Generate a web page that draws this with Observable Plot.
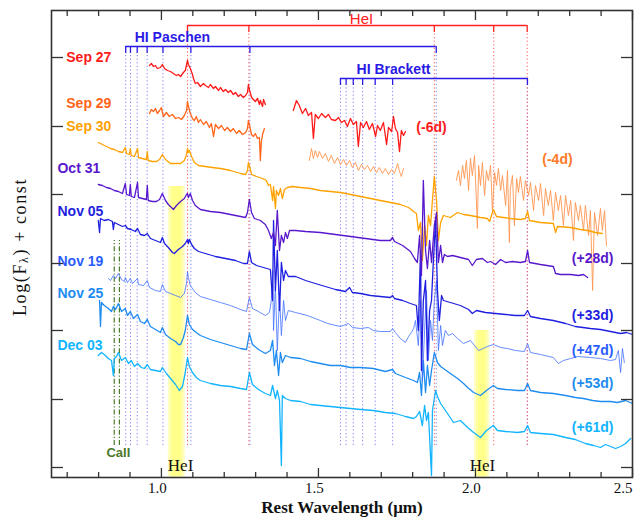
<!DOCTYPE html>
<html><head><meta charset="utf-8">
<script src="https://cdn.jsdelivr.net/npm/d3@7"></script>
<script src="https://cdn.jsdelivr.net/npm/@observablehq/plot@0.6"></script>
<style>body{margin:0;background:#fff}svg{display:block}</style>
</head><body><div id="chart"></div>
<script>
// ---- spectra: [wavelength (µm), log F + const] ----
const sep27a = [[0.962,4.12],[0.968,4.14],[0.975,4.11],[0.981,4.12],[0.987,4.09],[0.997,4.10],[1.003,4.13],[1.010,4.09],[1.019,4.07],[1.029,4.06],[1.038,4.04],[1.048,4.02],[1.054,4.03],[1.061,4.01],[1.070,4.05],[1.076,4.07],[1.083,4.17],[1.086,4.13],[1.092,4.09],[1.099,4.03],[1.102,3.99],[1.108,3.94],[1.115,3.95],[1.124,3.91],[1.134,3.94],[1.140,3.92],[1.150,3.90],[1.156,3.93],[1.166,3.89],[1.172,3.91],[1.182,3.87],[1.188,3.90],[1.197,3.86],[1.204,3.88],[1.213,3.85],[1.220,3.87],[1.229,3.83],[1.236,3.85],[1.245,3.81],[1.252,3.83],[1.261,3.80],[1.268,3.82],[1.274,3.85],[1.277,3.93],[1.280,3.88],[1.287,3.80],[1.293,3.78],[1.299,3.76],[1.306,3.79],[1.312,3.73],[1.315,3.77],[1.322,3.71],[1.325,3.78],[1.331,3.73]];
const sep27b = [[1.420,3.67],[1.430,3.77],[1.439,3.72],[1.449,3.64],[1.459,3.69],[1.468,3.62],[1.478,3.65],[1.484,3.39],[1.490,3.63],[1.500,3.59],[1.510,3.64],[1.522,3.60],[1.532,3.63],[1.541,3.58],[1.554,3.57],[1.564,3.60],[1.573,3.55],[1.583,3.57],[1.592,3.51],[1.602,3.59],[1.611,3.53],[1.621,3.56],[1.627,3.31],[1.634,3.55],[1.643,3.50],[1.653,3.56],[1.662,3.48],[1.672,3.54],[1.682,3.41],[1.688,3.52],[1.697,3.47],[1.707,3.55],[1.717,3.33],[1.723,3.50],[1.733,3.46],[1.739,3.61],[1.745,3.49],[1.752,3.45],[1.758,3.26],[1.764,3.47],[1.771,3.42],[1.777,3.46]];
const sep29a = [[0.962,3.64],[0.968,3.68],[0.975,3.66],[0.981,3.69],[0.987,3.64],[0.994,3.67],[1.000,3.70],[1.006,3.61],[1.016,3.65],[1.025,3.61],[1.035,3.63],[1.045,3.59],[1.054,3.60],[1.064,3.58],[1.073,3.62],[1.080,3.67],[1.083,3.76],[1.086,3.71],[1.092,3.64],[1.099,3.59],[1.105,3.57],[1.111,3.61],[1.118,3.55],[1.124,3.58],[1.134,3.53],[1.143,3.56],[1.153,3.50],[1.159,3.54],[1.166,3.41],[1.172,3.53],[1.182,3.49],[1.191,3.52],[1.201,3.47],[1.210,3.50],[1.220,3.46],[1.229,3.49],[1.239,3.44],[1.248,3.47],[1.258,3.43],[1.268,3.45],[1.274,3.49],[1.277,3.57],[1.280,3.53],[1.287,3.43],[1.293,3.41],[1.299,3.44],[1.306,3.39],[1.312,3.40],[1.315,3.17],[1.318,3.35],[1.322,3.43],[1.328,3.49]];
const sep29b = [[1.471,3.17],[1.478,3.29],[1.484,3.19],[1.490,3.27],[1.497,3.20],[1.503,3.26],[1.513,3.19],[1.522,3.24],[1.532,3.16],[1.541,3.22],[1.551,3.14],[1.561,3.20],[1.570,3.13],[1.580,3.18],[1.589,3.12],[1.599,3.17],[1.608,3.10],[1.618,3.15],[1.627,3.07],[1.637,3.13],[1.646,3.08],[1.656,3.12],[1.666,3.06],[1.675,3.11],[1.685,3.05],[1.694,3.10],[1.704,3.04],[1.713,3.09],[1.723,3.03],[1.733,3.08],[1.742,3.04],[1.752,3.14],[1.758,3.06],[1.764,3.01],[1.771,3.09]];
const sep29c = [[1.939,2.97],[1.946,3.07],[1.952,2.92],[1.959,3.12],[1.965,2.99],[1.971,3.17],[1.978,2.87],[1.984,3.19],[1.990,3.02],[1.997,3.22],[2.003,2.77],[2.006,2.49],[2.010,3.12],[2.016,2.92],[2.022,3.15],[2.029,2.82],[2.035,3.07],[2.041,2.97],[2.048,3.12],[2.054,2.67],[2.061,3.05],[2.067,2.92],[2.073,3.09],[2.080,2.87],[2.086,3.02],[2.096,2.72],[2.102,3.07],[2.108,2.35],[2.111,2.89],[2.118,3.02],[2.124,2.52],[2.131,2.99],[2.137,2.85],[2.143,3.01],[2.153,2.77],[2.159,2.97],[2.169,2.82],[2.175,2.95],[2.185,2.67],[2.191,2.92],[2.201,2.77],[2.207,2.94],[2.217,2.62],[2.223,2.89],[2.232,2.72],[2.239,2.87],[2.248,2.57],[2.255,2.85],[2.264,2.67],[2.271,2.82],[2.280,2.52],[2.287,2.82],[2.296,2.62],[2.303,2.77],[2.312,2.37],[2.318,2.75],[2.328,2.57],[2.334,2.72],[2.344,2.47],[2.350,2.72],[2.360,2.42],[2.366,2.67],[2.373,1.87],[2.379,2.65],[2.389,2.42],[2.398,2.69],[2.404,2.47],[2.411,2.67],[2.417,2.32]];
const sep30 = [[0.799,3.35],[0.812,3.33],[0.825,3.31],[0.838,3.29],[0.850,3.28],[0.863,3.26],[0.876,3.25],[0.885,3.30],[0.889,3.24],[0.898,3.23],[0.901,3.29],[0.904,3.22],[0.914,3.21],[0.924,3.29],[0.927,3.20],[0.939,3.19],[0.952,3.18],[0.955,3.26],[0.958,3.17],[0.971,3.16],[0.984,3.16],[0.994,3.18],[1.003,3.23],[1.013,3.18],[1.029,3.14],[1.045,3.14],[1.061,3.14],[1.073,3.17],[1.080,3.23],[1.083,3.29],[1.086,3.25],[1.089,3.27],[1.096,3.21],[1.105,3.15],[1.118,3.12],[1.140,3.11],[1.162,3.10],[1.188,3.09],[1.220,3.07],[1.252,3.04],[1.268,3.03],[1.274,3.07],[1.277,3.15],[1.280,3.12],[1.287,3.03],[1.303,3.01],[1.322,2.99],[1.334,2.97],[1.341,2.92],[1.347,2.93],[1.354,2.77],[1.357,2.91],[1.363,2.69],[1.366,2.87],[1.373,2.82],[1.379,2.89],[1.385,2.79],[1.392,2.88],[1.401,2.90],[1.417,2.91],[1.443,2.90],[1.475,2.89],[1.506,2.87],[1.538,2.86],[1.570,2.85],[1.602,2.83],[1.634,2.81],[1.666,2.79],[1.697,2.77],[1.729,2.75],[1.761,2.73],[1.787,2.70],[1.803,2.66],[1.812,2.64],[1.818,2.47],[1.825,2.55],[1.831,2.17],[1.838,2.52],[1.844,2.32],[1.850,2.62],[1.857,2.52],[1.863,2.77],[1.869,3.01],[1.876,2.77],[1.882,2.37],[1.889,2.55],[1.898,2.62],[1.920,2.60],[1.943,2.65],[1.962,2.63],[1.984,2.62],[2.016,2.60],[2.038,2.59],[2.045,2.56],[2.057,2.68],[2.067,2.61],[2.089,2.60],[2.111,2.59],[2.143,2.58],[2.159,2.59],[2.166,2.66],[2.172,2.57],[2.207,2.55],[2.248,2.54],[2.255,2.45],[2.261,2.51],[2.303,2.50],[2.334,2.48],[2.357,2.47],[2.382,2.45],[2.404,2.44]];
const oct31 = [[0.799,2.93],[0.812,2.92],[0.825,2.90],[0.838,2.89],[0.850,2.87],[0.863,2.86],[0.876,2.84],[0.885,2.94],[0.889,2.83],[0.898,2.82],[0.901,2.93],[0.904,2.81],[0.914,2.80],[0.924,2.95],[0.927,2.80],[0.939,2.79],[0.952,2.78],[0.955,2.92],[0.958,2.77],[0.971,2.76],[0.984,2.76],[0.994,2.78],[1.003,2.84],[1.013,2.77],[1.022,2.73],[1.032,2.70],[1.038,2.68],[1.048,2.72],[1.061,2.76],[1.073,2.79],[1.080,2.83],[1.083,2.84],[1.086,2.80],[1.092,2.84],[1.099,2.77],[1.108,2.72],[1.124,2.68],[1.156,2.66],[1.188,2.65],[1.220,2.63],[1.252,2.61],[1.268,2.60],[1.274,2.65],[1.280,2.78],[1.287,2.65],[1.296,2.59],[1.315,2.57],[1.331,2.53],[1.341,2.47],[1.350,2.39],[1.357,2.45],[1.363,2.32],[1.369,2.67],[1.376,2.27],[1.382,2.42],[1.389,2.35],[1.395,2.45],[1.401,2.39],[1.408,2.47],[1.427,2.47],[1.459,2.46],[1.506,2.45],[1.554,2.43],[1.602,2.41],[1.650,2.39],[1.697,2.37],[1.729,2.37],[1.736,2.40],[1.742,2.36],[1.768,2.32],[1.793,2.26],[1.806,2.19],[1.815,2.15],[1.822,2.42],[1.828,2.02],[1.834,2.97],[1.841,2.27],[1.847,2.09],[1.854,2.37],[1.860,2.15],[1.869,2.52],[1.876,2.65],[1.882,2.15],[1.889,2.32],[1.895,2.15],[1.901,2.23],[1.911,2.21],[1.927,2.22],[1.952,2.20],[1.978,2.18],[1.990,2.12],[2.003,2.18],[2.022,2.19],[2.038,2.15],[2.048,2.16],[2.064,2.13],[2.080,2.18],[2.096,2.15],[2.118,2.16],[2.143,2.15],[2.159,2.16],[2.166,2.27],[2.172,2.15],[2.207,2.13],[2.248,2.11],[2.255,2.04],[2.271,2.03],[2.303,2.03],[2.328,2.02],[2.344,2.03],[2.357,2.00]];
const nov05 = [[0.799,2.57],[0.803,2.45],[0.806,2.59],[0.818,2.57],[0.831,2.58],[0.844,2.56],[0.847,2.48],[0.850,2.55],[0.863,2.53],[0.876,2.51],[0.885,2.52],[0.892,2.49],[0.904,2.48],[0.917,2.46],[0.924,2.49],[0.933,2.43],[0.946,2.42],[0.955,2.44],[0.965,2.39],[0.981,2.37],[0.997,2.35],[1.003,2.40],[1.010,2.34],[1.022,2.30],[1.035,2.25],[1.041,2.24],[1.054,2.28],[1.067,2.31],[1.076,2.34],[1.083,2.38],[1.086,2.34],[1.089,2.38],[1.096,2.33],[1.105,2.29],[1.118,2.26],[1.140,2.24],[1.172,2.21],[1.204,2.19],[1.236,2.17],[1.261,2.14],[1.274,2.14],[1.280,2.26],[1.287,2.15],[1.303,2.12],[1.325,2.10],[1.347,2.08],[1.354,1.77],[1.357,2.57],[1.363,1.87],[1.369,2.27],[1.376,1.67],[1.382,2.15],[1.389,1.97],[1.395,2.07],[1.404,2.01],[1.427,2.01],[1.459,1.97],[1.490,1.94],[1.522,1.91],[1.554,1.88],[1.586,1.86],[1.599,1.90],[1.608,1.85],[1.634,1.84],[1.666,1.82],[1.697,1.81],[1.729,1.80],[1.736,1.82],[1.742,1.79],[1.768,1.77],[1.793,1.74],[1.812,1.72],[1.818,1.47],[1.825,2.27],[1.828,1.07],[1.834,1.77],[1.841,1.97],[1.847,1.17],[1.854,1.67],[1.860,1.77],[1.866,2.17],[1.873,2.57],[1.879,1.87],[1.885,1.57],[1.892,1.82],[1.898,1.77],[1.920,1.75],[1.952,1.72],[1.978,1.68],[1.990,1.64],[2.003,1.67],[2.032,1.65],[2.064,1.64],[2.096,1.63],[2.127,1.62],[2.156,1.62],[2.166,1.67],[2.175,1.61],[2.207,1.59],[2.248,1.57],[2.287,1.54],[2.318,1.51],[2.366,1.49],[2.398,1.48],[2.430,1.46],[2.462,1.44],[2.481,1.45],[2.500,1.43]];
const nov19 = [[0.831,1.99],[0.838,1.97],[0.847,2.02],[0.854,1.99],[0.863,2.04],[0.873,1.98],[0.882,1.96],[0.885,2.00],[0.892,1.95],[0.901,1.99],[0.908,1.94],[0.924,1.99],[0.927,1.93],[0.943,1.92],[0.955,1.97],[0.962,1.90],[0.981,1.87],[0.997,1.86],[1.003,1.93],[1.013,1.86],[1.029,1.84],[1.045,1.82],[1.061,1.80],[1.073,1.84],[1.080,1.94],[1.083,2.06],[1.086,2.00],[1.092,1.92],[1.108,1.85],[1.124,1.81],[1.156,1.78],[1.188,1.75],[1.220,1.72],[1.252,1.68],[1.271,1.66],[1.280,1.80],[1.290,1.69],[1.309,1.66],[1.331,1.62],[1.344,1.65],[1.350,1.77],[1.354,2.07],[1.357,1.47],[1.363,1.92],[1.369,1.27],[1.376,1.82],[1.382,1.42],[1.389,1.77],[1.395,1.57],[1.404,1.67],[1.427,1.65],[1.465,1.62],[1.506,1.57],[1.529,1.54],[1.570,1.51],[1.596,1.54],[1.608,1.50],[1.634,1.49],[1.659,1.50],[1.675,1.47],[1.697,1.46],[1.729,1.46],[1.736,1.49],[1.745,1.45],[1.761,1.39],[1.777,1.35],[1.787,1.41],[1.796,1.45],[1.803,1.49],[1.809,1.57],[1.818,1.32],[1.825,1.77],[1.831,0.97],[1.838,1.47],[1.844,1.87],[1.850,1.17],[1.857,1.57],[1.863,1.37],[1.869,1.77],[1.876,1.97],[1.882,1.27],[1.889,1.52],[1.895,1.32],[1.904,1.47],[1.914,1.42],[1.927,1.44],[1.943,1.39],[1.962,1.34],[1.984,1.37],[1.997,1.32],[2.010,1.27],[2.025,1.29],[2.038,1.31],[2.057,1.33],[2.080,1.30],[2.102,1.29],[2.127,1.27],[2.156,1.26],[2.166,1.34],[2.175,1.25],[2.207,1.23],[2.248,1.20],[2.264,1.14],[2.280,1.17],[2.303,1.19],[2.325,1.21],[2.366,1.20],[2.398,1.19],[2.430,1.17],[2.446,1.18],[2.455,1.27],[2.462,1.05],[2.468,1.29],[2.474,1.15]];
const nov25 = [[0.803,1.77],[0.806,1.51],[0.809,1.75],[0.818,1.72],[0.831,1.69],[0.841,1.66],[0.847,1.71],[0.854,1.68],[0.863,1.74],[0.873,1.66],[0.885,1.69],[0.892,1.62],[0.901,1.66],[0.911,1.59],[0.924,1.63],[0.933,1.56],[0.946,1.54],[0.955,1.58],[0.965,1.51],[0.981,1.48],[0.997,1.45],[1.003,1.50],[1.013,1.43],[1.029,1.39],[1.045,1.36],[1.054,1.33],[1.061,1.33],[1.070,1.40],[1.076,1.47],[1.083,1.62],[1.089,1.53],[1.099,1.48],[1.111,1.45],[1.124,1.42],[1.156,1.38],[1.188,1.35],[1.220,1.32],[1.252,1.29],[1.271,1.28],[1.280,1.44],[1.290,1.33],[1.309,1.28],[1.331,1.24],[1.347,1.27],[1.354,1.37],[1.360,1.12],[1.366,1.27],[1.373,1.02],[1.379,1.25],[1.385,1.15],[1.395,1.22],[1.411,1.20],[1.443,1.19],[1.475,1.16],[1.506,1.14],[1.538,1.12],[1.570,1.12],[1.602,1.10],[1.634,1.10],[1.675,1.09],[1.713,1.06],[1.736,1.08],[1.745,1.04],[1.777,1.00],[1.803,0.97],[1.815,0.95],[1.822,1.05],[1.828,0.82],[1.834,1.17],[1.841,0.85],[1.847,1.12],[1.854,0.92],[1.860,1.07],[1.869,1.25],[1.879,1.15],[1.889,1.11],[1.898,1.09],[1.920,1.04],[1.943,0.99],[1.962,0.94],[1.975,0.90],[1.994,0.85],[2.016,0.82],[2.035,0.87],[2.057,0.92],[2.070,0.89],[2.096,0.88],[2.134,0.87],[2.156,0.87],[2.166,0.94],[2.175,0.87],[2.207,0.85],[2.248,0.84],[2.287,0.82],[2.318,0.80],[2.344,0.79],[2.373,0.77],[2.398,0.76],[2.430,0.76],[2.452,0.75],[2.478,0.77],[2.500,0.74]];
const dec03 = [[0.799,1.22],[0.809,1.25],[0.818,1.23],[0.831,1.19],[0.841,1.17],[0.847,1.02],[0.850,1.19],[0.857,1.21],[0.863,1.25],[0.873,1.17],[0.885,1.20],[0.895,1.14],[0.904,1.17],[0.914,1.11],[0.924,1.14],[0.936,1.10],[0.946,1.09],[0.955,1.13],[0.965,1.08],[0.981,1.07],[0.997,1.06],[1.003,1.10],[1.016,1.04],[1.029,0.99],[1.045,0.93],[1.057,0.87],[1.067,0.91],[1.076,1.05],[1.083,1.20],[1.089,1.11],[1.099,1.05],[1.111,1.00],[1.124,0.97],[1.156,0.94],[1.188,0.92],[1.220,0.91],[1.252,0.89],[1.271,0.88],[1.280,1.05],[1.290,0.93],[1.309,0.88],[1.331,0.84],[1.347,0.82],[1.354,0.92],[1.363,0.79],[1.369,0.87],[1.376,0.77],[1.382,0.12],[1.385,0.82],[1.395,0.79],[1.411,0.77],[1.443,0.76],[1.475,0.73],[1.506,0.72],[1.538,0.71],[1.570,0.70],[1.602,0.69],[1.634,0.68],[1.675,0.67],[1.713,0.65],[1.745,0.64],[1.777,0.61],[1.803,0.59],[1.812,0.61],[1.822,0.66],[1.831,0.52],[1.838,0.72],[1.844,0.57],[1.850,0.65],[1.860,0.02],[1.863,0.67],[1.873,0.87],[1.879,0.81],[1.889,0.74],[1.911,0.64],[1.930,0.55],[1.952,0.57],[1.975,0.50],[1.994,0.45],[2.016,0.40],[2.035,0.47],[2.057,0.52],[2.070,0.47],[2.096,0.46],[2.134,0.45],[2.156,0.46],[2.166,0.52],[2.175,0.45],[2.207,0.44],[2.248,0.43],[2.287,0.40],[2.318,0.38],[2.350,0.34],[2.376,0.32],[2.398,0.30],[2.414,0.33],[2.430,0.31],[2.446,0.29],[2.462,0.31],[2.478,0.34],[2.494,0.39]];

// ---- line identifications (µm) ----
const paschen = [0.8863, 0.9015, 0.9229, 0.9546, 1.0049, 1.0938, 1.2818, 1.8751];
const heI = [1.0830, 1.2785, 1.8690, 2.0581, 2.1647];
const brackett = [1.5701, 1.5881, 1.6109, 1.6407, 1.6807, 1.7362, 2.1655];
const caII = [0.8498, 0.8662];
const heIBands = [[1.022, 1.076, 2.91], [1.997, 2.045, 1.47]];

// ---- labels ----
const dates = ["Sep 27","Sep 29","Sep 30","Oct 31","Nov 05","Nov 19","Nov 25","Dec 03"];
const phases = ["(-6d)","(-4d)","(+28d)","(+33d)","(+47d)","(+53d)","(+61d)"];
const xTickLabels = [1.0, 1.5, 2.0];
const xMinor = d3.range(7, 26).map(d => d / 10);
const yTicks = [0.10, 0.78, 1.47, 2.14, 2.83, 3.51, 4.20];

// ---- presentation ----
const C = {sep27:"#ff1a1a", sep29:"#ff6418", sep29t:"#ff9550", sep30:"#ffa200", oct31:"#5818cc",
  nov05:"#1f1fe0", nov19:"#3f6fff", nov19l:"#2a5cff", nov25:"#1e8cf0", dec03:"#12b4ff"};
const dateLabels = [
  {t:dates[0], x:0.697, y:4.20, c:C.sep27},{t:dates[1], x:0.697, y:3.74, c:C.sep29},
  {t:dates[2], x:0.697, y:3.51, c:C.sep30},{t:dates[3], x:0.669, y:3.09, c:C.oct31},
  {t:dates[4], x:0.669, y:2.66, c:C.nov05},{t:dates[5], x:0.669, y:2.16, c:C.nov19l},
  {t:dates[6], x:0.669, y:1.84, c:C.nov25},{t:dates[7], x:0.669, y:1.32, c:C.dec03}];
const phaseLabels = [
  {t:phases[0], x:1.860, y:3.50, c:C.sep27},{t:phases[1], x:2.261, y:3.18, c:"#ff7a28"},
  {t:phases[2], x:2.373, y:2.19, c:C.oct31},{t:phases[3], x:2.373, y:1.62, c:C.nov05},
  {t:phases[4], x:2.373, y:1.27, c:C.nov19l},{t:phases[5], x:2.373, y:0.94, c:C.nov25},
  {t:phases[6], x:2.373, y:0.50, c:C.dec03}];
const sans = "'Liberation Sans', Arial, sans-serif";
const serif = "'Liberation Serif', 'DejaVu Serif', serif";
const red = "#ff2020", blue = "#2a1ae6";
const L = (data, stroke, w = 1.3, o = 1) => Plot.line(data, {x: d => d[0], y: d => d[1], stroke, strokeWidth: w, strokeOpacity: o});

const yellowLayers = [0, 0.006, 0.013];
const marks = [];
for (const inset of yellowLayers) {
  marks.push(Plot.rect(heIBands, {x1: d => d[0] + inset, x2: d => d[1] - inset, y1: 0.005, y2: d => d[2], fill: "#ffff66", fillOpacity: 0.38}));
}
const minor = xMinor.filter(d => Math.round(d * 10) % 5 !== 0);
const major = [1.0, 1.5, 2.0, 2.5];
marks.push(
  Plot.ruleX(paschen, {y1: 0.32, y2: 4.245, stroke: "#7f7fff", strokeWidth: 1, strokeDasharray: "1.2,2.4"}),
  Plot.ruleX(brackett, {y1: 0.32, y2: 3.92, stroke: "#7f7fff", strokeWidth: 1, strokeDasharray: "1.2,2.4"}),
  Plot.ruleX(heI, {y1: 0.32, y2: 4.46, stroke: "#ff5a5a", strokeWidth: 1, strokeDasharray: "1.2,2.4"}),
  Plot.ruleX(caII, {y1: 0.32, y2: 2.37, stroke: "#4b7a2b", strokeWidth: 1.2, strokeDasharray: "5,2,1.2,2"}),
  L(sep29b, C.sep29t, 0.9), L(sep29c, C.sep29t, 0.9),
  L(sep30, C.sep30), L(sep27a, C.sep27), L(sep27b, C.sep27), L(sep29a, C.sep29),
  L(dec03, C.dec03), L(nov25, C.nov25), L(nov19, C.nov19, 0.8), L(nov05, C.nov05), L(oct31, C.oct31),
  // brackets
  Plot.ruleY([4.52], {x1: heI[0], x2: heI[heI.length - 1], stroke: red, strokeWidth: 1.3}),
  Plot.ruleX(heI, {y1: 4.45, y2: 4.52, stroke: red, strokeWidth: 1.3}),
  Plot.ruleY([4.31], {x1: paschen[0], x2: paschen[paschen.length - 1], stroke: blue, strokeWidth: 1.3}),
  Plot.ruleX(paschen, {y1: 4.24, y2: 4.31, stroke: blue, strokeWidth: 1.3}),
  Plot.ruleY([3.99], {x1: brackett[0], x2: brackett[brackett.length - 1], stroke: blue, strokeWidth: 1.3}),
  Plot.ruleX(brackett, {y1: 3.92, y2: 3.99, stroke: blue, strokeWidth: 1.3}),
  Plot.text(["HeI"], {x: 1.637, y: 4.58, text: d => d, fill: red, fontSize: 15, fontFamily: sans, letterSpacing: 0.5}),
  Plot.text(["HI Paschen"], {x: 1.035, y: 4.40, text: d => d, fill: blue, fontSize: 14, fontWeight: "bold", fontFamily: sans, letterSpacing: 1}),
  Plot.text(["HI Brackett"], {x: 1.739, y: 4.08, text: d => d, fill: blue, fontSize: 14, fontWeight: "bold", fontFamily: sans, letterSpacing: 1}),
  Plot.text(["CaII"], {x: 0.863, y: 0.25, text: d => d, fill: "#4b7a2b", fontSize: 13, fontWeight: "bold", fontFamily: sans, letterSpacing: 1}),
  Plot.text(["HeI"], {x: 1.061, y: 0.12, text: d => d, fill: "#111", fontSize: 17, fontFamily: serif}),
  Plot.text(["HeI"], {x: 2.022, y: 0.12, text: d => d, fill: "#111", fontSize: 17, fontFamily: serif}),
  Plot.text(dateLabels, {x: "x", y: "y", text: "t", fill: "c", textAnchor: "start", fontSize: 14, fontWeight: "bold", fontFamily: sans, letterSpacing: 0.3}),
  Plot.text(phaseLabels, {x: "x", y: "y", text: "t", fill: "c", fontSize: 14, fontWeight: "bold", fontFamily: sans, letterSpacing: 0.8}),
  // axes & frame
  Plot.axisX({anchor: "bottom", ticks: minor, tickSize: -5, tickFormat: () => "", label: null, stroke: "#333", strokeWidth: 1.3}),
  Plot.axisX({anchor: "bottom", ticks: major, tickSize: -9, tickFormat: () => "", label: null, stroke: "#333", strokeWidth: 1.3}),
  Plot.axisX({anchor: "top", ticks: minor, tickSize: -5, tickFormat: () => "", label: null, stroke: "#333", strokeWidth: 1.3}),
  Plot.axisX({anchor: "top", ticks: major, tickSize: -9, tickFormat: () => "", label: null, stroke: "#333", strokeWidth: 1.3}),
  Plot.axisX({anchor: "bottom", ticks: xTickLabels, tickSize: 0, tickPadding: 5, dx: -4, tickFormat: d => d.toFixed(1), label: null, fontSize: 15, fontFamily: serif, fill: "#111"}),
  Plot.axisX({anchor: "bottom", ticks: [2.5], tickSize: 0, tickPadding: 5, textAnchor: "end", tickFormat: d => d.toFixed(1), label: null, fontSize: 15, fontFamily: serif, fill: "#111"}),
  Plot.axisY({anchor: "left", ticks: yTicks, tickSize: -12, tickFormat: () => "", label: null, stroke: "#333", strokeWidth: 1.3}),
  Plot.axisY({anchor: "right", ticks: yTicks, tickSize: -12, tickFormat: () => "", label: null, stroke: "#333", strokeWidth: 1.3}),
  Plot.frame({stroke: "#333", strokeWidth: 1.6}),
  Plot.text(["Rest Wavelength (μm)"], {frameAnchor: "bottom", dy: 35, text: d => d, fontSize: 17, fontWeight: "bold", fontFamily: serif, fill: "#111", letterSpacing: 1.2})
);

const svg = Plot.plot({
  width: 638, height: 531,
  marginLeft: 51, marginRight: 6, marginTop: 10, marginBottom: 54,
  x: {domain: [0.65, 2.5], label: null},
  y: {domain: [0, 4.67], label: null},
  color: {type: "identity"},
  style: {background: "#fff"},
  marks
});
const s = d3.select(svg);
const t = s.append("text").attr("transform", "translate(20,247) rotate(-90)")
  .attr("text-anchor", "middle").attr("dominant-baseline", "central")
  .attr("fill", "#111").style("font-family", serif).style("font-size", "18px").style("letter-spacing", "1.6px");
t.append("tspan").text("Log(F");
t.append("tspan").style("font-size", "12px").attr("dy", 4).text("λ");
t.append("tspan").attr("dy", -4).text(") + const");
document.getElementById("chart").appendChild(svg);
</script>
</body></html>
